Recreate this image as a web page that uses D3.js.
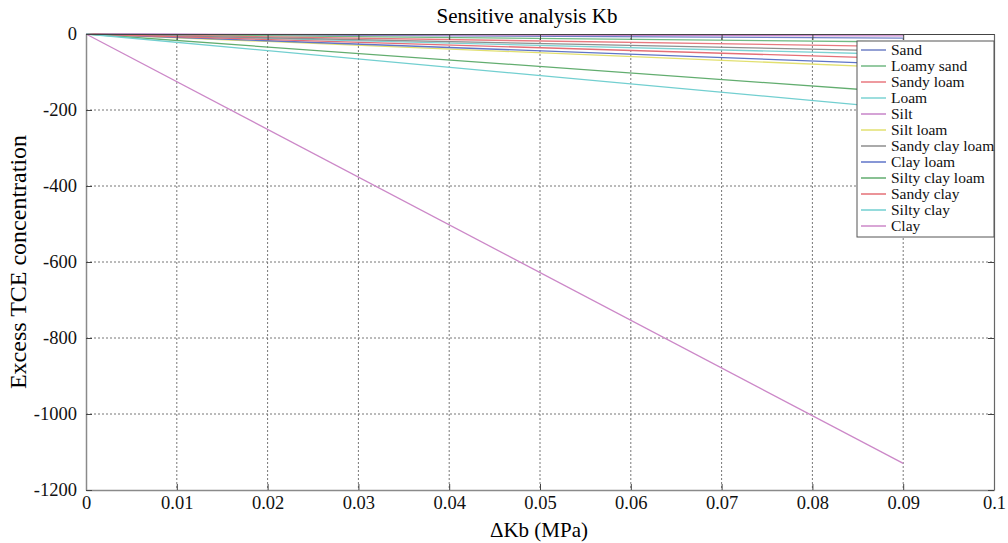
<!DOCTYPE html>
<html lang="en">
<head>
    <meta charset="UTF-8">
    <script src="https://d3js.org/d3.v7.min.js"></script>
    <title>Sensitive analysis Kb</title>
    <style>
        body{
            margin: 0;
            background: #fff;
            font-family: "Liberation Serif", "DejaVu Serif", serif;
        }
        .grid line{
            stroke: #777;
            stroke-dasharray: 2,2;
        }
    </style>
</head>
<body>
<svg width="1008" height="543"></svg>
<script>
// data: every line starts at 0 and ends at dKb = 0.09
let dKb = [0, 0.09]
let soils = ["Sand", "Loamy sand", "Sandy loam", "Loam", "Silt", "Silt loam",
    "Sandy clay loam", "Clay loam", "Silty clay loam", "Sandy clay", "Silty clay", "Clay"]
let excess = [
    [0, -11],
    [0, -21],
    [0, -33],
    [0, -54],
    [0, -5],
    [0, -89],
    [0, -45],
    [0, -80],
    [0, -154],
    [0, -65],
    [0, -197],
    [0, -1130]
]
let colors = ["#6f80c6", "#72b983", "#e8797f", "#7dd3d3", "#c784c9", "#e2e070",
    "#8e8e8e", "#5f75c8", "#62ad6f", "#e46f76", "#72cfd0", "#cc88c8"]
let xTicks = [0, 0.01, 0.02, 0.03, 0.04, 0.05, 0.06, 0.07, 0.08, 0.09, 0.1]
let yTicks = [0, -200, -400, -600, -800, -1000, -1200]

let svg = d3.select("svg")
let mLeft = 86, mRight = 994, mTop = 34, mBottom = 490

let x = d3.scaleLinear().domain([0, 0.1]).range([mLeft, mRight])
let y = d3.scaleLinear().domain([-1200, 0]).range([mBottom, mTop])

// grid
svg.append("g").attr("class", "grid")
    .selectAll("line").data(xTicks.slice(1, -1)).join("line")
    .attr("x1", d => x(d)).attr("x2", d => x(d))
    .attr("y1", mTop).attr("y2", mBottom)
svg.append("g").attr("class", "grid")
    .selectAll("line").data(yTicks.slice(1, -1)).join("line")
    .attr("x1", mLeft).attr("x2", mRight)
    .attr("y1", d => y(d)).attr("y2", d => y(d))

// lines
let line = d3.line().x((d, i) => x(dKb[i])).y(d => y(d))
svg.append("g").selectAll("path").data(excess).join("path")
    .attr("d", d => line(d))
    .attr("fill", "none")
    .attr("stroke", (d, i) => colors[i])
    .attr("stroke-width", 1.3)

// frame: ticks inside on all four sides
let fmt = d => d === 0 ? "0" : (d === 0.1 ? "0.1" : d3.format(".2f")(d))
let xb = svg.append("g").attr("transform", `translate(0,${mBottom})`)
    .call(d3.axisBottom(x).tickValues(xTicks).tickSizeInner(-6).tickSizeOuter(0).tickPadding(10).tickFormat(fmt))
let xt = svg.append("g").attr("transform", `translate(0,${mTop})`)
    .call(d3.axisTop(x).tickValues(xTicks).tickSizeInner(-6).tickSizeOuter(0).tickFormat(""))
let yl = svg.append("g").attr("transform", `translate(${mLeft},0)`)
    .call(d3.axisLeft(y).tickValues(yTicks).tickSizeInner(-6).tickSizeOuter(0).tickPadding(9).tickFormat(d => String(d)))
let yr = svg.append("g").attr("transform", `translate(${mRight},0)`)
    .call(d3.axisRight(y).tickValues(yTicks).tickSizeInner(-6).tickSizeOuter(0).tickFormat(""))

svg.selectAll(".domain").attr("stroke", "#8a8a8a").attr("stroke-width", 1.5)
xt.select(".domain").attr("stroke", "#444").attr("stroke-width", 1.2)
yr.select(".domain").attr("stroke", "#666").attr("stroke-width", 1.2)
svg.selectAll(".tick line").attr("stroke", "#444")
svg.selectAll(".tick text")
    .attr("font-family", "Liberation Serif, serif")
    .attr("font-size", 18.5)
    .attr("fill", "#111")
xb.selectAll(".tick text").attr("dy", "0.5em")

// titles
svg.append("text").attr("x", 527).attr("y", 23).attr("text-anchor", "middle")
    .attr("font-size", 21).text("Sensitive analysis Kb")
svg.append("text").attr("x", 539).attr("y", 537).attr("text-anchor", "middle")
    .attr("font-size", 21).text("ΔKb (MPa)")
svg.append("text").attr("transform", "translate(26,262) rotate(-90)")
    .attr("text-anchor", "middle").attr("font-size", 24).text("Excess TCE concentration")

// legend
let lg = svg.append("g").attr("transform", "translate(857,41)")
lg.append("rect").attr("width", 137).attr("height", 196)
    .attr("fill", "#fff").attr("stroke", "#555").attr("stroke-width", 1)
let rows = lg.selectAll("g.row").data(soils).join("g")
    .attr("transform", (d, i) => `translate(0,${9 + i * 16})`)
rows.append("line").attr("x1", 4).attr("x2", 29)
    .attr("stroke", (d, i) => colors[i]).attr("stroke-width", 1.5)
rows.append("text").attr("x", 34).attr("dy", "0.35em")
    .attr("font-size", 15.5).attr("fill", "#111").text(d => d)
</script>
</body>
</html>
